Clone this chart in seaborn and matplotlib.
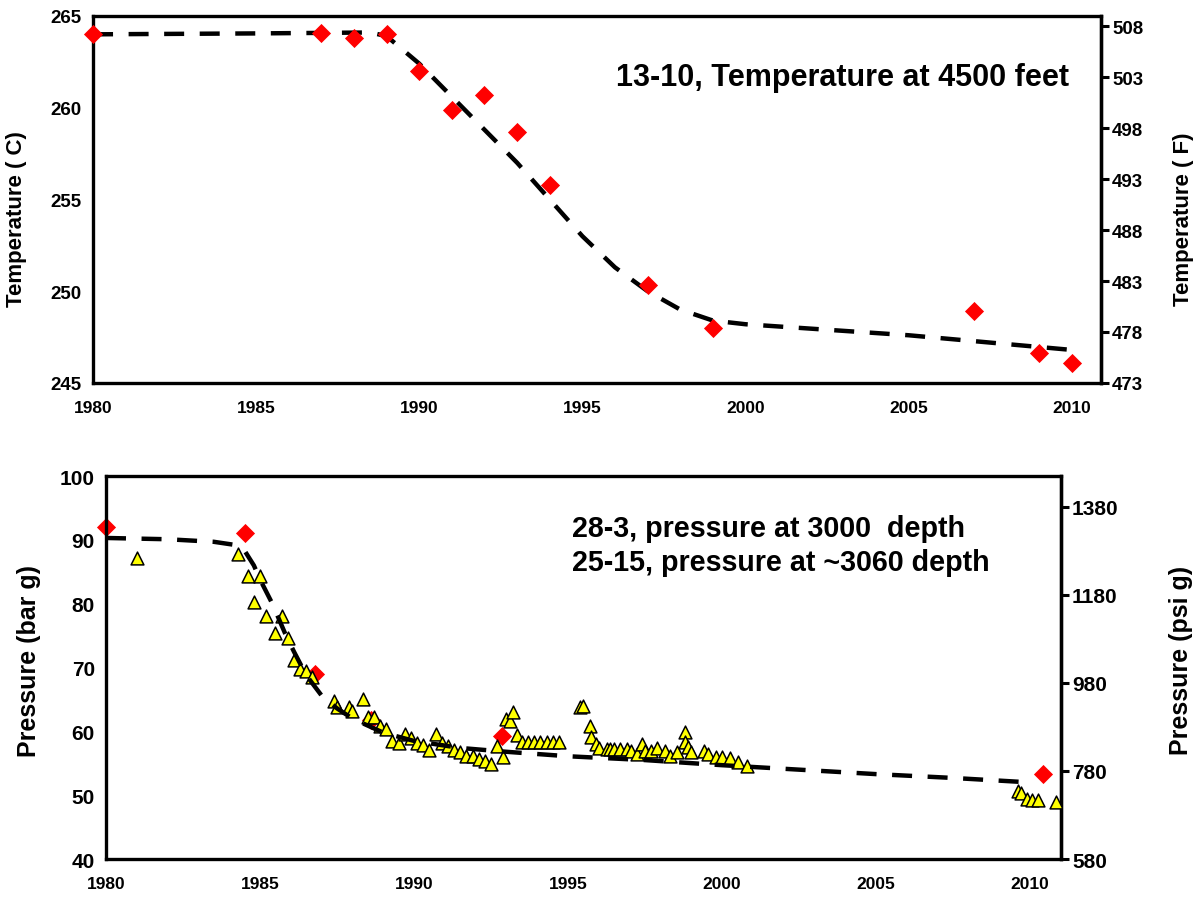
import numpy as np
import pandas as pd
import matplotlib
matplotlib.use("Agg")
import matplotlib.pyplot as plt
import seaborn as sns

# ── DATA: top panel, well 13-10 temperature ───────────
temp_years = [1980, 1987, 1988, 1989, 1990, 1991, 1992, 1993, 1994, 1997, 1999, 2007, 2009, 2010]
temp_c = [264.0, 264.05, 263.8, 264.0, 262.0, 259.85, 260.7, 258.65, 255.8, 250.35, 248.0, 248.9, 246.65, 246.1]

temp_trend_years = [1980, 1985, 1988.5, 1989, 1990, 1991, 1992, 1993, 1994, 1995, 1996, 1997, 1998, 1999, 2000, 2005, 2010]
temp_trend_c = [264.0, 264.05, 264.1, 263.9, 262.4, 260.6, 258.8, 257.0, 255.0, 253.0, 251.3, 250.0, 249.0, 248.4, 248.2, 247.6, 246.8]

# ── DATA: bottom panel, pressure ───────────────────────
# 28-3 (red diamonds)
p283_years = [1980, 1984.5, 1986.8, 1988.6, 1992.85, 2010.4]
p283_bar = [92.0, 91.1, 69.0, 61.8, 59.3, 53.3]

# 25-15 (yellow triangles)
p2515_years = [1981.0, 1984.3, 1984.6, 1985.0, 1984.8, 1985.2, 1985.7, 1985.5, 1985.9, 1986.1,
               1986.3, 1986.5, 1986.7, 1987.4, 1987.5, 1987.9, 1988.0, 1988.35, 1988.5, 1988.7,
               1988.9, 1989.1, 1989.3, 1989.5, 1989.7, 1989.9, 1990.1, 1990.3, 1990.5, 1990.7,
               1990.9, 1991.1, 1991.3, 1991.5, 1991.7, 1991.9, 1992.1, 1992.3, 1992.5, 1992.7,
               1992.9, 1993.0, 1993.1, 1993.2, 1993.35, 1993.5, 1993.7, 1993.9, 1994.1, 1994.3,
               1994.5, 1994.7, 1995.4, 1995.5, 1995.7, 1995.75, 1995.9, 1996.0, 1996.25, 1996.35,
               1996.5, 1996.7, 1996.9, 1997.05, 1997.25, 1997.4, 1997.5, 1997.7, 1997.9, 1998.15,
               1998.3, 1998.55, 1998.8, 1998.8, 1998.9, 1999.0, 1999.4, 1999.55, 1999.8, 2000.0,
               2000.25, 2000.5, 2000.8, 2009.6, 2009.7, 2009.9, 2010.05, 2010.25, 2010.85]
p2515_bar = [87.2, 87.8, 84.3, 84.3, 80.2, 78.1, 78.1, 75.4, 74.6, 71.2,
             69.7, 69.4, 68.5, 64.7, 63.8, 63.8, 63.2, 65.1, 62.3, 62.3,
             60.9, 60.4, 58.5, 58.1, 59.6, 59.0, 58.2, 57.9, 57.1, 59.6,
             58.1, 57.7, 57.1, 56.7, 56.1, 56.1, 55.6, 55.3, 54.9, 57.7,
             56.0, 61.9, 61.6, 63.0, 59.4, 58.3, 58.3, 58.3, 58.3, 58.3,
             58.3, 58.3, 63.8, 64.0, 60.9, 59.1, 58.0, 57.4, 57.2, 57.2,
             57.2, 57.2, 57.3, 56.9, 56.4, 58.0, 56.9, 57.0, 57.4, 56.9,
             56.1, 56.7, 59.9, 58.3, 57.5, 56.7, 56.9, 56.4, 56.0, 56.0,
             55.8, 55.2, 54.6, 50.6, 50.4, 49.4, 49.2, 49.2, 49.0]

p_trend_years = [1980, 1982, 1983.5, 1984.2, 1984.5, 1984.8, 1985.0, 1985.4, 1985.8, 1986.1,
                 1986.5, 1987.0, 1987.5, 1988.0, 1989.0, 1990.0, 1991.5, 1993.0, 1995.0, 1997.5,
                 2000.0, 2002.5, 2005.0, 2007.5, 2010.0]
p_trend_bar = [90.3, 90.1, 89.7, 89.2, 88.3, 86.0, 83.8, 80.0, 75.5, 72.5,
               68.8, 65.6, 63.6, 62.0, 59.8, 58.5, 57.4, 56.8, 56.1, 55.5,
               54.7, 54.0, 53.3, 52.7, 52.0]

temp_df = pd.DataFrame({"year": temp_years, "temp": temp_c})
temp_trend = pd.DataFrame({"year": temp_trend_years, "temp": temp_trend_c})
p283 = pd.DataFrame({"year": p283_years, "bar": p283_bar})
p2515 = pd.DataFrame({"year": p2515_years, "bar": p2515_bar})
p_trend = pd.DataFrame({"year": p_trend_years, "bar": p_trend_bar})

# ── STYLE ──────────────────────────────────────────────
sns.set_style("white")
plt.rcParams['font.family'] = ['Liberation Sans', 'DejaVu Sans']
plt.rcParams['font.weight'] = 'bold'
for key in ['text.color', 'axes.labelcolor', 'xtick.color', 'ytick.color']:
    plt.rcParams[key] = 'black'
dash = (0, (4.5, 3.5))

fig = plt.figure(figsize=(11.99, 9.03), dpi=100)
ax1 = fig.add_axes([0.0776, 0.5748, 0.8407, 0.4064])
ax2 = fig.add_axes([0.0884, 0.0476, 0.7965, 0.4241])

def style_axes(ax, xsize, ysize):
    for s in ax.spines.values():
        s.set_linewidth(2.4)
        s.set_color('black')
    ax.tick_params(axis='both', direction='out', length=6, width=2.2, color='black')
    ax.tick_params(axis='x', labelsize=xsize, pad=6)
    ax.tick_params(axis='y', labelsize=ysize, pad=2)
    for lab in ax.get_xticklabels() + ax.get_yticklabels():
        lab.set_fontweight('bold')

def style_secondary(sec, size):
    sec.spines['right'].set_linewidth(2.4)
    sec.tick_params(direction='out', length=6, width=2.2, labelsize=size, pad=2, color='black')
    for lab in sec.get_yticklabels():
        lab.set_fontweight('bold')

# ── CHART 1: temperature ───────────────────────────────
sns.lineplot(data=temp_trend, x="year", y="temp", ax=ax1, color='black', lw=3.2,
             linestyle=dash, sort=False, estimator=None, zorder=2)
sns.scatterplot(data=temp_df, x="year", y="temp", ax=ax1, marker='D', color='red',
                s=95, linewidth=0, zorder=3, clip_on=False)
ax1.set_xlim(1980, 2010.9)
ax1.set_ylim(245, 265)
ax1.set_xticks(range(1980, 2011, 5))
ax1.set_yticks(range(245, 266, 5))
ax1.set_xlabel("")
ax1.set_ylabel("Temperature ( C)", fontsize=16, fontweight='bold')
ax1.yaxis.set_label_coords(-0.066, 0.45)
style_axes(ax1, 12.5, 13.5)
ax1.text(0.968, 0.834, "13-10, Temperature at 4500 feet", transform=ax1.transAxes,
         ha='right', va='center', fontsize=22, fontweight='bold')

sec1 = ax1.secondary_yaxis('right', functions=(lambda c: c * 1.8 + 32, lambda f: (f - 32) / 1.8))
sec1.set_yticks(range(473, 509, 5))
style_secondary(sec1, 13.5)
sec1.set_ylabel("Temperature ( F)", fontsize=16, fontweight='bold')
sec1.yaxis.set_label_coords(1.071, 0.45, transform=ax1.transAxes)

# ── CHART 2: pressure ──────────────────────────────────
sns.scatterplot(data=p283, x="year", y="bar", ax=ax2, marker='D', color='red',
                s=95, linewidth=0, zorder=2, clip_on=False)
sns.scatterplot(data=p2515, x="year", y="bar", ax=ax2, marker='^', color='#ffff00',
                edgecolor='black', linewidth=1.1, s=85, zorder=3)
sns.lineplot(data=p_trend, x="year", y="bar", ax=ax2, color='black', lw=3.2,
             linestyle=dash, sort=False, estimator=None, zorder=4)
ax2.set_xlim(1980, 2011)
ax2.set_ylim(40, 100)
ax2.set_xticks(range(1980, 2011, 5))
ax2.set_yticks(range(40, 101, 10))
ax2.set_xlabel("")
ax2.set_ylabel("Pressure (bar g)", fontsize=18, fontweight='bold')
ax2.yaxis.set_label_coords(-0.068, 0.52)
style_axes(ax2, 12.5, 15)
ax2.text(0.488, 0.82, "28-3, pressure at 3000  depth\n25-15, pressure at ~3060 depth",
         transform=ax2.transAxes, ha='left', va='center', fontsize=20.6,
         fontweight='bold', linespacing=1.28)

sec2 = ax2.secondary_yaxis('right', functions=(lambda b: b * 14.5, lambda p: p / 14.5))
sec2.set_yticks(range(580, 1381, 200))
style_secondary(sec2, 15)
sec2.set_ylabel("Pressure (psi g)", fontsize=18, fontweight='bold')
sec2.yaxis.set_label_coords(1.113, 0.52, transform=ax2.transAxes)

for ax in (ax1, ax2):
    leg = ax.get_legend()
    if leg is not None:
        leg.remove()

fig.savefig("out.png", dpi=100)
